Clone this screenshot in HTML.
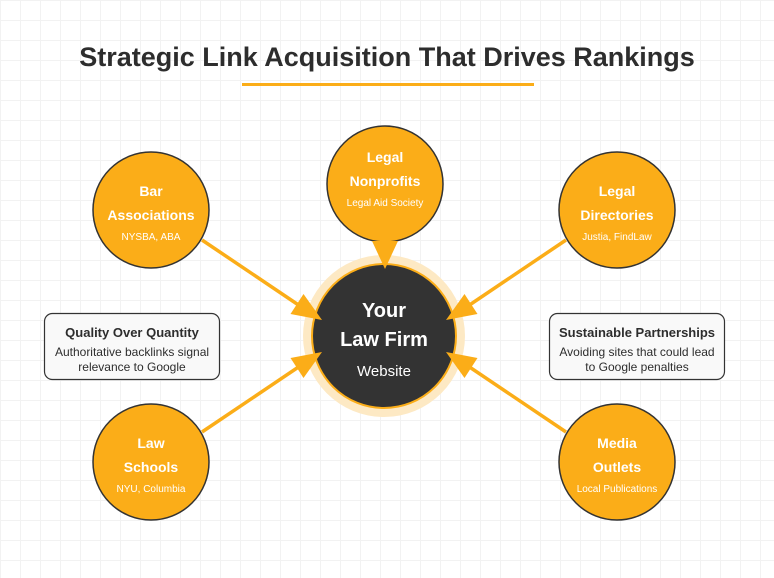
<!DOCTYPE html>
<html><head><style>
html,body{margin:0;padding:0;}
body{width:774px;height:578px;overflow:hidden;background:#fff;
background-image:linear-gradient(#f2f2f2 1px,transparent 1px),linear-gradient(90deg,#f2f2f2 1px,transparent 1px);background-size:20px 20px;
font-family:"Liberation Sans",Arial,sans-serif;}
</style></head><body>
<svg width="774" height="578" viewBox="0 0 774 578" xmlns="http://www.w3.org/2000/svg" style="position:absolute;left:0;top:0;font-family:'Liberation Sans',Arial,sans-serif">
<text x="387" y="66" text-anchor="middle" font-size="27" font-weight="bold" fill="#2d2d2d">Strategic Link Acquisition That Drives Rankings</text>
<rect x="242" y="83" width="292" height="3" fill="#fbad18"/>
<g stroke="#fbad18" stroke-width="3.5" fill="none">
<line x1="202" y1="240" x2="300" y2="306"/>
<line x1="566" y1="240" x2="468" y2="306"/>
<line x1="202" y1="432" x2="300" y2="366"/>
<line x1="566" y1="432" x2="468" y2="366"/>
</g>
<circle cx="384" cy="336" r="81" fill="#fde9c4"/>
<circle cx="384" cy="336" r="72" fill="#333" stroke="#fbad18" stroke-width="2"/>
<g fill="#fbad18">
<polygon points="322,320 303.5,294 290.5,314"/>
<polygon points="446,320 464.5,294 477.5,314"/>
<polygon points="322,352 303.5,378 290.5,358"/>
<polygon points="446,352 464.5,378 477.5,358"/>
</g>
<text x="384" y="317" text-anchor="middle" font-size="20" font-weight="bold" fill="#fff">Your</text>
<text x="384" y="346" text-anchor="middle" font-size="20" font-weight="bold" fill="#fff">Law Firm</text>
<text x="384" y="376" text-anchor="middle" font-size="15" fill="#fff">Website</text>
<g stroke="#333" stroke-width="1.5" fill="#fbad18">
<circle cx="385" cy="184" r="58"/>
<circle cx="151" cy="210" r="58"/>
<circle cx="617" cy="210" r="58"/>
<circle cx="151" cy="462" r="58"/>
<circle cx="617" cy="462" r="58"/>
</g>
<polygon points="372,241 398,241 385,269" fill="#fbad18"/>
<g fill="#fff" text-anchor="middle">
<text x="385" y="162" font-size="14" font-weight="bold">Legal</text>
<text x="385" y="186" font-size="14" font-weight="bold">Nonprofits</text>
<text x="385" y="206" font-size="10">Legal Aid Society</text>
<text x="151" y="196" font-size="14" font-weight="bold">Bar</text>
<text x="151" y="220" font-size="14" font-weight="bold">Associations</text>
<text x="151" y="240" font-size="10">NYSBA, ABA</text>
<text x="617" y="196" font-size="14" font-weight="bold">Legal</text>
<text x="617" y="220" font-size="14" font-weight="bold">Directories</text>
<text x="617" y="240" font-size="10">Justia, FindLaw</text>
<text x="151" y="448" font-size="14" font-weight="bold">Law</text>
<text x="151" y="472" font-size="14" font-weight="bold">Schools</text>
<text x="151" y="492" font-size="10">NYU, Columbia</text>
<text x="617" y="448" font-size="14" font-weight="bold">Media</text>
<text x="617" y="472" font-size="14" font-weight="bold">Outlets</text>
<text x="617" y="492" font-size="10">Local Publications</text>
</g>
<g stroke="#333" stroke-width="1.2" fill="#f9f9f9">
<rect x="44.5" y="313.5" width="175" height="66" rx="8"/>
<rect x="549.5" y="313.5" width="175" height="66" rx="8"/>
</g>
<g fill="#2d2d2d" text-anchor="middle">
<text x="132" y="337" font-size="13" font-weight="bold">Quality Over Quantity</text>
<text x="132" y="356" font-size="12">Authoritative backlinks signal</text>
<text x="132" y="371" font-size="12">relevance to Google</text>
<text x="637" y="337" font-size="13" font-weight="bold">Sustainable Partnerships</text>
<text x="637" y="356" font-size="12">Avoiding sites that could lead</text>
<text x="637" y="371" font-size="12">to Google penalties</text>
</g>
</svg>
</body></html>
